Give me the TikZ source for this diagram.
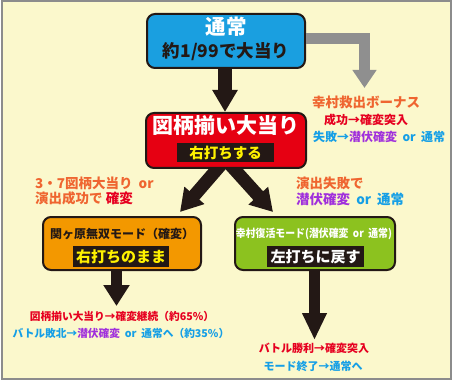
\documentclass[tikz,border=0pt]{standalone}
\usepackage{fontspec}
\setmainfont{Noto Sans CJK JP}
\usetikzlibrary{arrows.meta}
\definecolor{bg}{HTML}{FBF8CC}
\definecolor{frame}{HTML}{8C8C8C}
\definecolor{dark}{HTML}{231815}
\definecolor{boxblue}{HTML}{1A9FE0}
\definecolor{boxred}{HTML}{E60012}
\definecolor{boxorange}{HTML}{F39800}
\definecolor{boxgreen}{HTML}{8CC21F}
\definecolor{arrgray}{HTML}{8F8F8F}
\definecolor{tor}{HTML}{EF6530}
\definecolor{tred}{HTML}{E60020}
\definecolor{tblue}{HTML}{159FE6}
\definecolor{tpur}{HTML}{A030DC}
\definecolor{tyel}{HTML}{FFF100}
\newcommand{\sz}[1]{\fontsize{#1pt}{#1pt}\selectfont}
\newcommand{\orsp}{\hspace{0.45em}}
\begin{document}
\begin{tikzpicture}[x=1pt,y=-1pt,
  box/.style={draw=dark, line width=2pt, rounded corners=8pt, inner sep=0pt},
  tag/.style={fill=dark, inner sep=0pt},
  txt/.style={inner sep=0pt, font=\bfseries},
  blk/.style={draw=dark, line width=#1},
  gry/.style={draw=arrgray, line width=11pt, line join=miter, -{Triangle[width=23pt,length=18pt]}}
]
\useasboundingbox (0,0) rectangle (452,382);
\fill[white] (0,0) rectangle (452,382);
\draw[fill=bg, draw=frame, line width=2pt] (1.5,1.5) rectangle (450.5,379);

% boxes
\node[box, fill=boxblue, minimum width=158pt, minimum height=54pt] (top) at (226,41) {};
\node[box, fill=boxorange, minimum width=158pt, minimum height=53pt] (seki) at (122,243.5) {};
\node[box, fill=boxgreen, minimum width=160pt, minimum height=53pt] (yuki) at (315,243.5) {};

% diagonal arrows start under the red box
\coordinate (d1) at (225,160);
\coordinate (d2) at (226,160);
\draw[blk=13pt, -{Triangle[width=25pt,length=22pt]}] (d1) -- ([xshift=58pt,yshift=4pt]seki.north);
\draw[blk=13pt, -{Triangle[width=25pt,length=22pt]}] (d2) -- ([xshift=-42pt,yshift=4pt]yuki.north);
\node[box, fill=boxred, minimum width=160pt, minimum height=55pt] (hit) at (226,140.5) {};

\draw[blk=14pt, -{Triangle[width=24pt,length=22pt]}] ([xshift=-1pt]top.south) -- ([xshift=-1pt]hit.north);
\coordinate (bonusend) at (364.5,88);
\draw[gry] ([yshift=2.5pt]top.east) -| (bonusend);
\coordinate (sekiend) at (116.5,306);
\draw[blk=11pt, -{Triangle[width=25pt,length=21pt]}] (sekiend |- seki.south) -- (sekiend);
\coordinate (yukiend) at (314.5,340);
\draw[blk=11pt, -{Triangle[width=23pt,length=27pt]}] (yukiend |- yuki.south) -- (yukiend);

% box texts
\node[txt, white, font=\bfseries\sz{20.5}] (t1) at (226,27) {通常};
\node[txt, dark, font=\bfseries\sz{17.5}] (t2) at (226,52) {約1/99で大当り};
\node[txt, white, font=\bfseries\sz{21}] (t3) at (226,126) {図柄揃い大当り};
\node[tag, minimum width=97pt, minimum height=19pt] (tg1) at (225.5,152.5) {};
\node[txt, tyel, font=\bfseries\sz{14.5}] at (tg1) {右打ちする};
\node[txt, dark, font=\bfseries\sz{12}] (t4) at (122,234) {関ヶ原無双モード（確変）};
\node[tag, minimum width=96pt, minimum height=21pt] (tg2) at (121,256.5) {};
\node[txt, tyel, font=\bfseries\sz{15}] at (tg2) {右打ちのまま};
\node[txt, white, font=\bfseries\sz{11}] (t5) at (314,234) {\resizebox{156pt}{\height}{幸村復活モード(潜伏確変\orsp or\orsp 通常)}};
\node[tag, minimum width=97pt, minimum height=21pt] (tg3) at (315.5,256.5) {};
\node[txt, white, font=\bfseries\sz{15}] at (tg3) {左打ちに戻す};

% bonus labels
\node[txt, tor, font=\bfseries\sz{13.5}] (b1) at (366,102) {幸村救出ボーナス};
\node[txt, tred, font=\bfseries\sz{12}] (b2) at (366,120) {成功→確変突入};
\node[txt, anchor=west, font=\bfseries\sz{12}] (b3) at (313,137) {\textcolor{tblue}{失敗→}\textcolor{tpur}{潜伏確変}\orsp\textcolor{tblue}{or\orsp 通常}};

% branch labels
\node[txt, anchor=west, tor, font=\bfseries\sz{13.5}] (l1) at (35,183) {3・7図柄大当り\orsp or};
\node[txt, anchor=west, tor, font=\bfseries\sz{13.5}] (l2) at (35,198) {演出成功で \textcolor{tred}{確変}};
\node[txt, anchor=west, tor, font=\bfseries\sz{13.5}] (r1) at (296,183) {演出失敗で};
\node[txt, anchor=west, font=\bfseries\sz{13.5}] (r2) at (296,199) {\textcolor{tpur}{潜伏確変}\orsp\textcolor{tblue}{or\orsp 通常}};

% result labels
\node[txt, tred, font=\bfseries\sz{10.7}] (s1) at (122,316) {図柄揃い大当り→確変継続（約65\%）};
\node[txt, font=\bfseries\sz{10.7}] (s2) at (121,333) {\textcolor{tblue}{バトル敗北→}\textcolor{tpur}{潜伏確変}\orsp\textcolor{tblue}{or\orsp 通常へ（約35\%）}};
\node[txt, tred, font=\bfseries\sz{11}] (y1) at (314,348) {バトル勝利→確変突入};
\node[txt, tblue, font=\bfseries\sz{11}] (y2) at (313,366) {モード終了→通常へ};
\end{tikzpicture}
\end{document}
